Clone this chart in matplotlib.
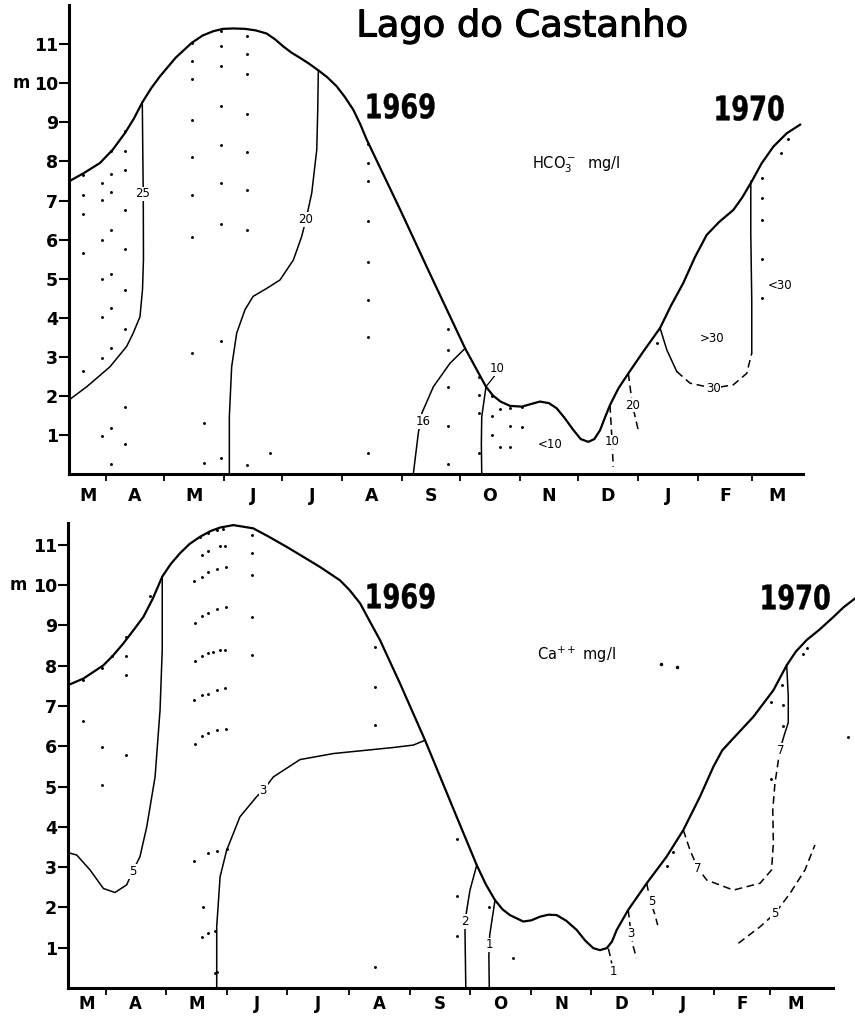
import matplotlib
matplotlib.use("Agg")
import matplotlib.pyplot as plt
from matplotlib.textpath import TextPath
from matplotlib.patches import PathPatch
from matplotlib.font_manager import FontProperties
from matplotlib.transforms import Affine2D, IdentityTransform
import matplotlib.patheffects as pe

plt.rcParams['font.family'] = ['DejaVu Sans']

# x = days counted from 1 March 1969, y = water depth in m
MONTH_START = [31, 61, 92, 122, 153, 184, 214, 245, 275, 306, 337, 365]
MONTH_MID = [21.5, 46, 76.5, 107, 137.5, 168.5, 199, 229.5, 260, 290.5, 321.5, 351, 378]
MONTH_LABELS = ["M", "A", "M", "J", "J", "A", "S", "O", "N", "D", "J", "F", "M"]

# ---- upper panel: HCO3- ----
hco_level_d = [11.9, 19.5, 27.9, 34.5, 40.9, 45.5, 49.8, 54.5, 59.0, 67.0, 75.3, 81.0, 86.5, 91.5,
               96.9, 103.0, 108.5, 114.1, 118.5, 122.7, 127.0, 131.3, 136.0, 140.8, 145.5, 150.3,
               154.5, 158.9, 162.5, 165.8, 183.0, 198.6, 216.7, 227.5, 231.0, 235.0, 239.9, 246.0,
               251.0, 255.4, 260.0, 264.0, 268.0, 272.7, 276.5, 280.4, 283.5, 286.5, 289.0, 291.6,
               296.0, 301.1, 309.0, 317.5, 323.0, 329.5, 335.5, 341.6, 348.0, 355.4, 360.0, 364.9,
               370.0, 376.1, 383.0, 389.9]
hco_level_m = [7.49, 7.70, 7.96, 8.30, 8.73, 9.10, 9.51, 9.88, 10.18, 10.65, 11.03, 11.22, 11.33, 11.39,
               11.40, 11.39, 11.35, 11.27, 11.12, 10.94, 10.78, 10.65, 10.50, 10.33, 10.15, 9.92,
               9.65, 9.32, 8.95, 8.56, 6.78, 5.12, 3.22, 2.24, 2.02, 1.86, 1.75, 1.73,
               1.80, 1.86, 1.82, 1.69, 1.45, 1.13, 0.90, 0.83, 0.90, 1.13, 1.45, 1.77,
               2.20, 2.58, 3.15, 3.74, 4.30, 4.89, 5.55, 6.12, 6.45, 6.76, 7.08, 7.49,
               7.95, 8.38, 8.72, 8.94]

hco_iso25_d = [49.8, 50.0, 50.3, 50.4, 49.9, 48.6, 45.1, 41.7, 33.1, 21.1, 11.9]
hco_iso25_m = [9.51, 8.50, 7.10, 5.50, 4.72, 4.03, 3.61, 3.27, 2.75, 2.24, 1.90]
hco_iso20_d = [140.8, 140.5, 140.0, 137.4, 134.4, 132.2, 127.9, 121.0, 114.0, 107.1, 102.9, 98.6, 96.0, 94.8, 94.8]
hco_iso20_m = [10.30, 9.30, 8.30, 7.19, 6.51, 6.08, 5.48, 4.97, 4.75, 4.55, 4.21, 3.61, 2.75, 1.47, 0.0]
hco_iso16_d = [216.7, 208.9, 200.3, 194.3, 192.5, 189.9]
hco_iso16_m = [3.22, 2.84, 2.24, 1.56, 1.05, 0.0]
hco_iso10_d = [227.5, 225.3, 225.1, 225.3]
hco_iso10_m = [2.24, 1.47, 0.80, 0.0]
hco_iso10b_d = [291.6, 292.5, 293.3]
hco_iso10b_m = [1.77, 1.00, 0.19]
hco_iso20b_d = [301.1, 303.2, 306.6]
hco_iso20b_m = [2.58, 1.77, 1.05]
hco_iso30a_d = [317.5, 321.0, 326.1]
hco_iso30a_m = [3.74, 3.18, 2.63]
hco_iso30b_d = [326.1, 333.0, 345.0, 355.4, 362.3, 364.9]
hco_iso30b_m = [2.63, 2.33, 2.20, 2.29, 2.58, 3.10]
hco_iso30c_d = [364.9, 364.9, 364.4, 364.4]
hco_iso30c_m = [3.10, 4.46, 6.17, 7.49]

hco_label_d = [50.0, 134.4, 194.8, 233.5, 292.7, 303.2, 345.0, 344.2, 379.5, 260.6]
hco_label_m = [7.17, 6.51, 1.35, 2.71, 0.83, 1.77, 2.20, 3.46, 4.83, 0.75]
hco_label_txt = ["25", "20", "16", "10", "10", "20", "30", ">30", "<30", "<10"]

hco_dot_d = [19.3] * 5 + [28.8] * 7 + [33.6] * 9 + [40.9] * 9 + [75.3] * 8 + [81.7] * 2 \
    + [90.5] * 9 + [104.1] * 8 + [115.8] + [166.3] * 8 + [207.7] * 5 + [223.9] * 4 \
    + [230.4] * 3 + [234.8] * 2 + [240.0] * 3 + [246.0] * 2 + [315.7] + [370.0] * 5 + [380.1, 383.8]
hco_dot_m = [7.66, 7.15, 6.66, 5.67, 2.64,
             7.46, 7.02, 5.99, 4.99, 4.01, 2.98, 0.98,
             8.26, 7.69, 7.23, 6.25, 5.13, 4.25, 3.24, 1.19, 0.26,
             8.77, 8.27, 7.79, 6.75, 5.77, 4.70, 3.71, 1.73, 0.78,
             11.03, 10.56, 10.11, 9.07, 8.11, 7.15, 6.08, 3.10,
             1.32, 0.28,
             11.33, 10.94, 10.43, 9.41, 8.41, 7.45, 6.41, 3.41, 0.41,
             11.22, 10.75, 10.24, 9.22, 8.24, 7.28, 6.25, 0.24,
             0.54,
             8.45, 7.96, 7.49, 6.47, 5.44, 4.46, 3.50, 0.54,
             3.71, 3.18, 2.24, 1.24, 0.26,
             2.50, 2.03, 1.56, 0.55,
             1.99, 1.49, 1.01,
             1.66, 0.71,
             1.69, 1.24, 0.71,
             1.73, 1.22,
             3.35,
             7.58, 7.06, 6.51, 5.50, 4.50,
             8.21, 8.57]

# ---- lower panel: Ca++ ----
ca_level_d = [12.0, 19.6, 29.7, 34.5, 39.7, 44.5, 49.8, 54.5, 59.3, 63.5, 68.2, 73.0, 78.3, 83.5,
              88.4, 95.1, 105.1, 113.0, 121.9, 130.0, 138.7, 148.7, 153.5, 158.8, 163.5, 168.8,
              178.9, 191.5, 207.4, 217.5, 222.0, 226.7, 230.5, 234.2, 240.9, 245.0, 249.3, 253.5,
              257.7, 262.5, 267.8, 272.0, 276.1, 279.5, 282.9, 285.5, 287.9, 293.7, 303.0, 313.0,
              321.4, 329.8, 336.5, 341.0, 346.6, 356.6, 366.7, 373.4, 378.0, 383.5, 390.0, 396.9,
              402.0, 407.8]
ca_level_m = [7.52, 7.68, 8.01, 8.25, 8.55, 8.86, 9.21, 9.66, 10.21, 10.52, 10.79, 11.02, 11.20, 11.34,
              11.43, 11.49, 11.41, 11.20, 10.95, 10.71, 10.45, 10.12, 9.88, 9.55, 9.12, 8.64,
              7.56, 6.15, 4.25, 3.05, 2.58, 2.18, 1.95, 1.81, 1.65, 1.68, 1.77, 1.82,
              1.81, 1.67, 1.44, 1.18, 0.99, 0.94, 0.99, 1.15, 1.44, 1.94, 2.60, 3.26,
              3.92, 4.75, 5.49, 5.90, 6.20, 6.73, 7.39, 8.01, 8.35, 8.64, 8.90, 9.21,
              9.45, 9.67]

ca_iso5_d = [59.3, 59.3, 58.2, 55.7, 51.5, 48.1, 44.4, 41.4, 35.5, 29.7, 23.0, 16.3, 12.0]
ca_iso5_m = [10.21, 8.39, 6.90, 5.24, 4.00, 3.26, 2.89, 2.56, 2.37, 2.47, 2.93, 3.30, 3.36]
ca_iso3_d = [191.5, 185.6, 175.6, 145.4, 128.6, 115.2, 110.1, 106.8, 98.4, 91.7, 88.4, 86.7, 86.7]
ca_iso3_m = [6.15, 6.03, 5.97, 5.82, 5.67, 5.24, 4.91, 4.75, 4.25, 3.42, 2.76, 1.52, 0.0]
ca_iso2_d = [217.5, 214.1, 212.5, 211.6, 211.6, 212.0]
ca_iso2_m = [3.05, 2.43, 1.94, 1.65, 1.36, 0.0]
ca_iso1_d = [226.7, 225.2, 224.0, 223.6, 223.8]
ca_iso1_m = [2.18, 1.70, 1.30, 0.80, 0.0]
ca_iso1b_d = [283.7, 284.6, 285.4]
ca_iso1b_m = [0.98, 0.80, 0.61]
ca_iso3b_d = [293.7, 294.6, 296.2, 297.9]
ca_iso3b_m = [1.94, 1.56, 1.03, 0.74]
ca_iso5b_d = [303.0, 304.7, 307.2, 308.5]
ca_iso5b_m = [2.60, 2.18, 1.81, 1.56]
ca_iso7a_d = [321.4, 324.8, 328.7, 333.2, 346.6, 360.0, 365.8, 366.7, 366.4, 367.5, 370.0]
ca_iso7a_m = [3.92, 3.42, 2.97, 2.68, 2.43, 2.60, 2.93, 3.59, 4.42, 5.08, 5.91]
ca_iso7b_d = [370.0, 372.3, 374.2, 374.2, 373.4]
ca_iso7b_m = [5.91, 6.30, 6.59, 7.25, 8.01]
ca_iso5c_d = [349.1, 360.0, 367.5, 375.1, 382.6, 387.6]
ca_iso5c_m = [1.11, 1.52, 1.85, 2.35, 2.93, 3.55]

ca_label_d = [44.4, 110.1, 211.6, 223.8, 286.2, 294.9, 305.5, 328.6, 370.5, 367.5]
ca_label_m = [2.89, 4.91, 1.65, 1.07, 0.40, 1.35, 2.15, 2.97, 5.89, 1.85]
ca_label_txt = ["5", "3", "2", "1", "1", "3", "5", "7", "7", "5"]

ca_dot_d = [19.6, 19.6, 28.9, 28.9, 28.9, 33.9, 41.1, 41.1, 41.1, 41.1, 53.2,
            78.3, 82.5, 86.7, 90.0,
            79.2, 82.5, 88.4, 90.9,
            75.4, 79.2, 82.5, 86.7, 91.4,
            75.8, 79.2, 82.5, 86.7, 91.4,
            75.8, 79.2, 82.5, 85.0, 88.4, 90.9,
            75.4, 79.2, 82.5, 86.7, 90.9,
            75.8, 79.2, 82.5, 86.7, 91.4,
            75.4, 82.5, 86.7, 91.7,
            80.0, 79.2, 82.5, 85.8, 85.8, 87.0,
            104.3, 104.3, 104.3, 104.3, 104.3,
            166.3, 166.3, 166.3, 166.3,
            207.7, 207.7, 207.7, 223.8, 235.9, 313.0, 316.0,
            365.5, 365.5, 370.9, 371.7, 371.7, 381.8, 383.5, 404.4]
ca_dot_m = [7.64, 6.63, 7.95, 5.99, 5.04, 8.25, 8.72, 8.25, 7.77, 5.78, 9.73,
            11.20, 11.30, 11.36, 11.39,
            10.76, 10.85, 10.97, 10.97,
            10.11, 10.21, 10.33, 10.41, 10.45,
            9.05, 9.23, 9.31, 9.40, 9.46,
            8.11, 8.25, 8.32, 8.35, 8.40, 8.40,
            7.15, 7.27, 7.31, 7.39, 7.44,
            6.05, 6.25, 6.33, 6.40, 6.43,
            3.15, 3.34, 3.40, 3.44,
            2.02, 1.27, 1.37, 1.42, 0.38, 0.40,
            11.24, 10.79, 10.25, 9.21, 8.26,
            8.47, 7.46, 6.53, 0.53,
            3.71, 2.28, 1.29, 2.02, 0.74, 3.03, 3.38,
            7.10, 5.18, 7.52, 7.02, 6.50, 8.30, 8.43, 6.24]
ca_mark_d = [310.2, 318.3]
ca_mark_m = [8.04, 7.96]

W, H = 855, 1016
fig = plt.figure(figsize=(W / 100, H / 100), dpi=100)


def make_axes(x0, x1, y_top, y_bot, xmax, ymax, month_pad=9, month_size=12.5):
    ax = fig.add_axes([x0 / W, 1 - y_bot / H, (x1 - x0) / W, (y_bot - y_top) / H])
    ax.set_xlim(11.9, xmax)
    ax.set_ylim(0, ymax)
    for side in ["top", "right"]:
        ax.spines[side].set_visible(False)
    for side in ["left", "bottom"]:
        ax.spines[side].set_linewidth(2.2)
    ax.set_yticks(range(1, 12))
    ax.tick_params(axis="y", length=7, width=1.5, pad=1, labelsize=12.5)
    for lab in ax.get_yticklabels():
        lab.set_fontweight("bold")
    ax.set_xticks(MONTH_START)
    ax.set_xticklabels([])
    ax.set_xticks(MONTH_MID, minor=True)
    ax.set_xticklabels(MONTH_LABELS, minor=True, fontsize=month_size, fontweight="bold")
    ax.tick_params(axis="x", which="major", length=5, width=1.3, direction="out")
    ax.tick_params(axis="x", which="minor", length=0, pad=month_pad)
    ax.text(-0.065, 10, "m", transform=ax.get_yaxis_transform(), fontsize=12,
            fontweight="bold", ha="center", va="center")
    return ax


def iso(ax, d, m, dashed=False, lw=1.1):
    ls = (0, (5, 3)) if dashed else "-"
    ax.plot(d, m, color="black", lw=lw, ls=ls, solid_joinstyle="round", clip_on=False)


def labels(ax, d, m, txt):
    for xi, yi, t in zip(d, m, txt):
        ax.text(xi, yi, t, fontsize=8.5, ha="center", va="center",
                bbox=dict(facecolor="white", edgecolor="none", pad=0.6))


def year(text, cx, cy, height=25.5, squeeze=0.76):
    # condensed bold year heading, centred at pixel (cx, cy) from the top-left
    tp = TextPath((0, 0), text, size=100, prop=FontProperties(family="DejaVu Sans", weight="bold"))
    ext = tp.get_extents()
    s = height / ext.height
    tr = Affine2D().translate(-ext.x0 - ext.width / 2, -ext.y0 - ext.height / 2) \
        .scale(s * squeeze, s).translate(cx, H - cy)
    fig.add_artist(PathPatch(tr.transform_path(tp), transform=IdentityTransform(),
                             facecolor="black", edgecolor="black", lw=0.3))


# upper panel
ax1 = make_axes(69, 803, 5, 474.3, 391.4, 12.0)
ax1.plot(hco_dot_d, hco_dot_m, "k.", markersize=2.2)
ax1.plot(hco_level_d, hco_level_m, color="black", lw=1.6, solid_joinstyle="round")
iso(ax1, hco_iso25_d, hco_iso25_m)
iso(ax1, hco_iso20_d, hco_iso20_m)
iso(ax1, hco_iso16_d, hco_iso16_m)
iso(ax1, hco_iso10_d, hco_iso10_m)
iso(ax1, hco_iso10b_d, hco_iso10b_m, dashed=True)
iso(ax1, hco_iso20b_d, hco_iso20b_m, dashed=True)
iso(ax1, hco_iso30a_d, hco_iso30a_m)
iso(ax1, hco_iso30b_d, hco_iso30b_m, dashed=True)
iso(ax1, hco_iso30c_d, hco_iso30c_m)
ax1.plot([227.5, 232.0], [2.24, 2.52], color="black", lw=0.9)
labels(ax1, hco_label_d, hco_label_m, hco_label_txt)

# lower panel
ax2 = make_axes(68, 833, 522.7, 988, 396.7, 11.55, month_pad=5, month_size=12)
ax2.plot(ca_dot_d, ca_dot_m, "k.", markersize=2.2, clip_on=False)
ax2.plot(ca_mark_d, ca_mark_m, "k.", markersize=3)
ax2.plot(ca_level_d, ca_level_m, color="black", lw=1.6, solid_joinstyle="round", clip_on=False)
iso(ax2, ca_iso5_d, ca_iso5_m)
iso(ax2, ca_iso3_d, ca_iso3_m)
iso(ax2, ca_iso2_d, ca_iso2_m)
iso(ax2, ca_iso1_d, ca_iso1_m)
iso(ax2, ca_iso1b_d, ca_iso1b_m, dashed=True)
iso(ax2, ca_iso3b_d, ca_iso3b_m, dashed=True)
iso(ax2, ca_iso5b_d, ca_iso5b_m, dashed=True)
iso(ax2, ca_iso7a_d, ca_iso7a_m, dashed=True)
iso(ax2, ca_iso7b_d, ca_iso7b_m)
iso(ax2, ca_iso5c_d, ca_iso5c_m, dashed=True)
labels(ax2, ca_label_d, ca_label_m, ca_label_txt)

# titles and headings
fig.text(522 / W, 1 - 26 / H, "Lago do Castanho", fontsize=26.5, ha="center", va="center",
         path_effects=[pe.withStroke(linewidth=0.8, foreground="black")])
year("1969", 401, 106)
year("1970", 750, 108)
year("1969", 401, 596)
year("1970", 796, 597)
fig.text(576 / W, 1 - 165 / H, r"HCO$_3^-$  mg/l", fontsize=10.5, ha="center", va="center")
fig.text(576 / W, 1 - 655 / H, r"Ca$^{++}$ mg/l", fontsize=10.5, ha="center", va="center")

fig.savefig("out.png", dpi=100)
